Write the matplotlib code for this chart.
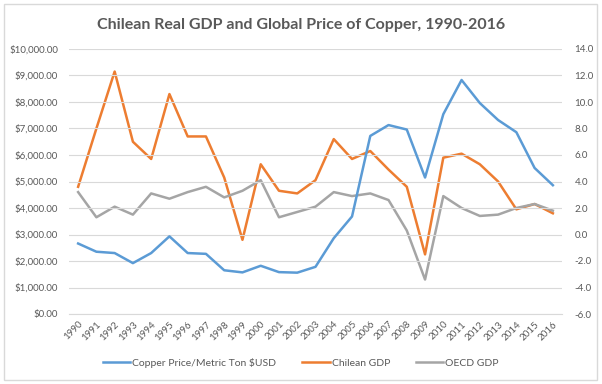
import matplotlib
matplotlib.use("Agg")
import matplotlib.pyplot as plt
from matplotlib.patches import Rectangle
from matplotlib.ticker import FuncFormatter

plt.rcParams['font.family'] = ['Lato', 'DejaVu Sans']

years = [str(y) for y in range(1990, 2017)]
copper = [2660, 2350, 2300, 1920, 2300, 2930, 2300, 2270, 1650, 1570,
          1820, 1580, 1560, 1780, 2860, 3680, 6720, 7130, 6960, 5150,
          7540, 8830, 7960, 7320, 6860, 5510, 4860]
chile_gdp = [3.6, 8.0, 12.3, 7.0, 5.7, 10.6, 7.4, 7.4, 4.3, -0.4,
             5.3, 3.3, 3.1, 4.1, 7.2, 5.7, 6.3, 4.9, 3.6, -1.5,
             5.8, 6.1, 5.3, 4.0, 1.9, 2.3, 1.6]
oecd_gdp = [3.2, 1.3, 2.1, 1.5, 3.1, 2.7, 3.2, 3.6, 2.8, 3.3,
            4.1, 1.3, 1.7, 2.1, 3.2, 2.9, 3.1, 2.6, 0.3, -3.4,
            2.9, 2.0, 1.4, 1.5, 2.0, 2.3, 1.8]

BLUE = '#5B9BD5'
ORANGE = '#ED7D31'
GRAY = '#A5A5A5'
TXT = '#595959'

fig = plt.figure(figsize=(6.02, 3.84), dpi=100)
fig.patches.append(Rectangle((4/602, 4/384), 593/602, 376/384, transform=fig.transFigure,
                             fill=False, edgecolor='#D9D9D9', linewidth=1.0))

ax = fig.add_axes([69/602, 1-314/384, 493/602, 265/384])
ax2 = ax.twinx()

x = list(range(len(years)))
l1, = ax.plot(x, copper, color=BLUE, lw=1.8, label='Copper Price/Metric Ton $USD')
l2, = ax2.plot(x, chile_gdp, color=ORANGE, lw=1.8, label='Chilean GDP')
l3, = ax2.plot(x, oecd_gdp, color=GRAY, lw=1.8, label='OECD GDP')

ax.set_ylim(0, 10000)
ax.set_yticks(range(0, 10001, 1000))
ax.yaxis.set_major_formatter(FuncFormatter(lambda v, p: f"${v:,.2f}"))
ax2.set_ylim(-6, 14)
ax2.set_yticks(range(-6, 15, 2))
ax2.yaxis.set_major_formatter(FuncFormatter(lambda v, p: f"{v:.1f}"))

ax.set_xlim(-0.5, len(years) - 0.5)
ax.set_xticks(x)
ax.set_xticklabels(years, rotation=45, ha='right', rotation_mode='anchor')

ax.grid(axis='y', color='#D9D9D9', lw=0.8)
ax.set_axisbelow(True)
ax.set_zorder(ax2.get_zorder() + 1)
ax.patch.set_visible(False)

for a in (ax, ax2):
    for s in a.spines.values():
        s.set_visible(False)
    a.tick_params(length=0, labelsize=7, colors=TXT)
ax.tick_params(axis='y', pad=8)
ax2.tick_params(axis='y', pad=9)
ax.tick_params(axis='x', pad=4)
ax.spines['bottom'].set_visible(True)
ax.spines['bottom'].set_color('#D9D9D9')

fig.text(0.5, 1-25/384, 'Chilean Real GDP and Global Price of Copper, 1990-2016',
         ha='center', va='center', fontsize=11.5, fontweight='bold', color=TXT)

fig.legend(handles=[l1, l2, l3], loc='center', bbox_to_anchor=(0.5, 1-363/384),
           ncol=3, frameon=False, fontsize=7.5, labelcolor=TXT,
           handlelength=2.6, handletextpad=0.2, columnspacing=2.5)

fig.savefig('out.png', dpi=100)
